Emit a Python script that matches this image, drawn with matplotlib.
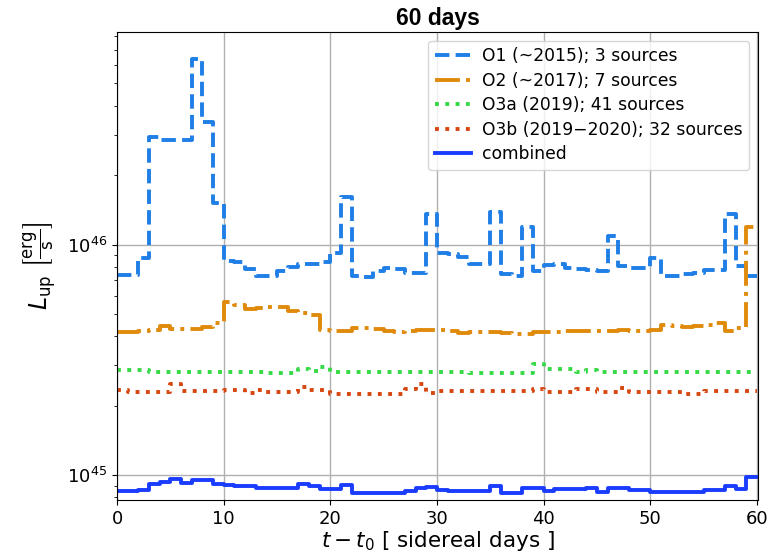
import numpy as np
import matplotlib
matplotlib.use('Agg')
import matplotlib.pyplot as plt

# upper limits per sidereal-day bin, days 0..59
o1 = [7.41e45, 7.41e45, 8.78e45, 2.92e46, 2.83e46, 2.83e46, 2.83e46, 6.37e46, 3.39e46, 1.51e46,
      8.52e45, 8.43e45, 7.87e45, 7.33e45, 7.33e45, 7.71e45, 8.02e45, 8.27e45, 8.27e45, 8.43e45,
      9.23e45, 1.60e46, 7.33e45, 7.26e45, 7.71e45, 7.94e45, 7.87e45, 7.55e45, 7.55e45, 1.35e46,
      9.23e45, 9.14e45, 8.87e45, 8.27e45, 8.27e45, 1.38e46, 7.48e45, 7.33e45, 1.19e46, 7.71e45,
      8.19e45, 8.27e45, 7.94e45, 7.80e45, 7.79e45, 7.71e45, 1.087e46, 8.10e45, 7.94e45, 7.94e45,
      8.78e45, 7.33e45, 7.33e45, 7.48e45, 7.55e45, 7.79e45, 7.79e45, 1.36e46, 8.10e45, 7.33e45]

o2 = [4.16e45, 4.18e45, 4.22e45, 4.27e45, 4.44e45, 4.30e45, 4.30e45, 4.30e45, 4.40e45, 4.57e45,
      5.61e45, 5.48e45, 5.25e45, 5.31e45, 5.38e45, 5.34e45, 5.13e45, 5.03e45, 4.96e45, 4.26e45,
      4.23e45, 4.23e45, 4.33e45, 4.33e45, 4.30e45, 4.20e45, 4.16e45, 4.23e45, 4.27e45, 4.26e45,
      4.27e45, 4.20e45, 4.14e45, 4.16e45, 4.16e45, 4.16e45, 4.14e45, 4.11e45, 4.11e45, 4.18e45,
      4.18e45, 4.18e45, 4.23e45, 4.20e45, 4.20e45, 4.20e45, 4.23e45, 4.27e45, 4.23e45, 4.20e45,
      4.27e45, 4.48e45, 4.43e45, 4.40e45, 4.44e45, 4.49e45, 4.57e45, 4.23e45, 4.34e45, 1.19e46]

o3a = [2.85e45, 2.85e45, 2.85e45, 2.81e45, 2.81e45, 2.81e45, 2.79e45, 2.79e45, 2.79e45, 2.79e45,
       2.81e45, 2.80e45, 2.80e45, 2.80e45, 2.76e45, 2.76e45, 2.76e45, 2.90e45, 2.82e45, 2.93e45,
       2.80e45, 2.80e45, 2.80e45, 2.80e45, 2.80e45, 2.80e45, 2.80e45, 2.80e45, 2.80e45, 2.80e45,
       2.80e45, 2.80e45, 2.80e45, 2.77e45, 2.77e45, 2.77e45, 2.77e45, 2.77e45, 2.77e45, 3.02e45,
       2.88e45, 2.88e45, 2.88e45, 2.80e45, 2.86e45, 2.80e45, 2.80e45, 2.80e45, 2.80e45, 2.80e45,
       2.80e45, 2.80e45, 2.80e45, 2.80e45, 2.80e45, 2.80e45, 2.80e45, 2.80e45, 2.80e45, 2.80e45]

o3b = [2.33e45, 2.30e45, 2.30e45, 2.30e45, 2.30e45, 2.49e45, 2.32e45, 2.32e45, 2.32e45, 2.32e45,
       2.35e45, 2.35e45, 2.27e45, 2.33e45, 2.30e45, 2.30e45, 2.30e45, 2.41e45, 2.33e45, 2.33e45,
       2.24e45, 2.24e45, 2.24e45, 2.24e45, 2.24e45, 2.24e45, 2.24e45, 2.36e45, 2.49e45, 2.26e45,
       2.32e45, 2.32e45, 2.32e45, 2.32e45, 2.32e45, 2.32e45, 2.32e45, 2.32e45, 2.32e45, 2.37e45,
       2.30e45, 2.30e45, 2.30e45, 2.36e45, 2.36e45, 2.30e45, 2.30e45, 2.38e45, 2.30e45, 2.30e45,
       2.30e45, 2.30e45, 2.30e45, 2.24e45, 2.24e45, 2.32e45, 2.32e45, 2.32e45, 2.32e45, 2.32e45]

combined = [8.52e44, 8.52e44, 8.58e44, 9.11e44, 9.35e44, 9.58e44, 9.26e44, 9.48e44, 9.48e44, 9.17e44,
            9.05e44, 8.98e44, 8.95e44, 8.81e44, 8.81e44, 8.81e44, 8.81e44, 9.17e44, 8.93e44, 8.67e44,
            8.67e44, 9.02e44, 8.38e44, 8.38e44, 8.38e44, 8.38e44, 8.38e44, 8.52e44, 8.81e44, 8.89e44,
            8.61e44, 8.52e44, 8.52e44, 8.52e44, 8.52e44, 8.93e44, 8.38e44, 8.38e44, 8.81e44, 8.81e44,
            8.52e44, 8.67e44, 8.67e44, 8.67e44, 8.81e44, 8.46e44, 8.81e44, 8.81e44, 8.58e44, 8.58e44,
            8.46e44, 8.46e44, 8.46e44, 8.46e44, 8.46e44, 8.58e44, 8.58e44, 8.93e44, 8.67e44, 9.80e44]

labels = ['O1 (~2015); 3 sources', 'O2 (~2017); 7 sources', 'O3a (2019); 41 sources',
          'O3b (2019\u22122020); 32 sources', 'combined']

series = [o1, o2, o3a, o3b, combined]
colors = ['#1f7fe6', '#e08a0c', '#35d945', '#d6470f', '#1a3cff']
styles = ['--', '-.', ':', ':', '-']

days = np.arange(61)

fig = plt.figure(figsize=(7.77, 5.56), dpi=100)
ax = fig.add_axes([0.1506, 0.1007, 0.8249, 0.8417])

for i in range(len(series)):
    y = list(series[i]) + [series[i][-1]]
    ax.step(days, y, where='post', color=colors[i], linestyle=styles[i], linewidth=2.8, label=labels[i])

ax.set_yscale('log')
ax.set_xlim(0, 60.1)
ax.set_ylim(7.8e44, 8.35e46)
ax.grid(True, which='major', color='#b0b0b0', linewidth=1)
ax.set_axisbelow(True)
ax.tick_params(axis='both', which='major', labelsize=13)

ax.set_xlabel(r'$t - t_0$ [ sidereal days ]', fontsize=15.5, labelpad=1)
ax.set_ylabel(r'$L_{\rm up}$ $\left[\frac{\rm erg}{\rm s}\right]$', fontsize=17, labelpad=6)
ax.set_title('60 days', fontsize=16.5, fontweight='bold',
             family=['Liberation Sans', 'DejaVu Sans'], pad=5)

ax.legend(loc='upper right', fontsize=12.3, handlelength=2.1, labelspacing=0.38,
          handletextpad=0.65)

fig.savefig('out.png', dpi=100)
